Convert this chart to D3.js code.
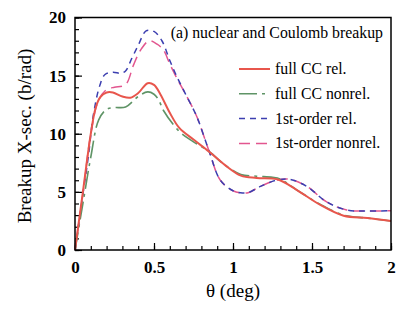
<!DOCTYPE html>
<html>
<head>
<meta charset="utf-8">
<script src="https://cdn.jsdelivr.net/npm/d3@7"></script>
<style>
	body { margin: 0; background: #fff; }
	svg text { font-family: "Liberation Serif", "Times New Roman", serif; }
</style>
</head>
<body>
<div id="chart"></div>
<script>
// angles (deg) and cross sections (b/rad)
const fullRelTheta = [0, 0.05, 0.1, 0.13, 0.16, 0.2, 0.24, 0.3, 0.35, 0.4, 0.46, 0.5, 0.54, 0.6, 0.66, 0.75, 0.85, 0.95, 1.05, 1.15, 1.28, 1.4, 1.55, 1.7, 1.85, 2.0]
const fullRel = [0, 5.0, 10.0, 12.2, 13.15, 13.55, 13.55, 13.2, 13.1, 13.5, 14.35, 14.2, 13.4, 11.8, 10.5, 9.5, 8.45, 7.3, 6.4, 6.2, 6.08, 5.2, 3.9, 2.95, 2.75, 2.5]

const fullNonrelTheta = [0, 0.05, 0.1, 0.15, 0.2, 0.25, 0.32, 0.4, 0.46, 0.5, 0.53, 0.56, 0.66, 0.75, 0.85, 0.95, 1.05, 1.15, 1.25, 1.3, 1.4, 1.55, 1.7, 1.85, 2.0]
const fullNonrel = [0, 4.0, 8.0, 11.2, 12.1, 12.25, 12.3, 13.2, 13.6, 13.4, 12.9, 12.0, 10.2, 9.3, 8.45, 7.3, 6.5, 6.35, 6.25, 6.1, 5.2, 3.95, 3.0, 2.75, 2.5]

const firstRelTheta = [0, 0.05, 0.085, 0.116, 0.158, 0.19, 0.24, 0.29, 0.32, 0.36, 0.4, 0.45, 0.5, 0.55, 0.6, 0.64, 0.7, 0.77, 0.85, 0.92, 1.0, 1.06, 1.1, 1.17, 1.28, 1.36, 1.47, 1.59, 1.72, 1.85, 2.0]
const firstRel = [0, 4.8, 8.1, 11.6, 14.2, 15.1, 15.3, 15.2, 15.4, 16.5, 17.6, 18.85, 18.8, 18.0, 16.3, 15.05, 13.4, 11.5, 8.45, 6.0, 5.1, 4.9, 4.95, 5.45, 6.02, 6.08, 5.45, 4.16, 3.44, 3.35, 3.38]

const firstNonrelTheta = [0, 0.05, 0.1, 0.15, 0.2, 0.25, 0.3, 0.33, 0.37, 0.42, 0.47, 0.52, 0.56, 0.6, 0.64, 0.7, 0.77, 0.85, 0.92, 1.0, 1.06, 1.1, 1.17, 1.28, 1.36, 1.47, 1.59, 1.72, 1.85, 2.0]
const firstNonrel = [0, 4.8, 10.0, 12.9, 13.8, 14.0, 14.1, 14.4, 15.9, 17.3, 18.0, 17.7, 17.2, 16.0, 14.9, 13.4, 11.5, 8.45, 6.0, 5.1, 4.9, 4.95, 5.45, 6.02, 6.08, 5.45, 4.16, 3.44, 3.35, 3.38]

const seriesNames = ['full CC rel.', 'full CC nonrel.', '1st-order rel.', '1st-order nonrel.']
const seriesColours = ['#e8564c', '#5f9466', '#3c3fb0', '#e2568f']
const seriesDashes = [null, '18,5,3,5', '6,5', '11,6']
const seriesWidths = [2, 1.6, 1.5, 1.5]

const xTicks = [0, 0.5, 1, 1.5, 2]
const yTicks = [0, 5, 10, 15, 20]
const titleText = '(a) nuclear and Coulomb breakup'

const series = [
	{ theta: fullRelTheta, value: fullRel },
	{ theta: fullNonrelTheta, value: fullNonrel },
	{ theta: firstRelTheta, value: firstRel },
	{ theta: firstNonrelTheta, value: firstNonrel }
]

const width = 399, height = 315
const margin = { top: 17.5, right: 8, bottom: 65, left: 75 }

const svg = d3.select('#chart')
	.append('svg')
	.attr('width', width)
	.attr('height', height)

const x = d3.scaleLinear().domain([0, 2]).range([margin.left, width - margin.right])
const y = d3.scaleLinear().domain([0, 20]).range([height - margin.bottom, margin.top])

// minor + major ticks, pointing inward
const xAxis = d3.axisBottom(x).tickValues(d3.range(0, 2.001, 0.1)).tickSize(-4).tickFormat('')
const yAxis = d3.axisLeft(y).tickValues(d3.range(0, 20.001, 1)).tickSize(-4).tickFormat('')

svg.append('g')
	.attr('transform', `translate(0,${y(0)})`)
	.call(xAxis)
	.call(g => g.select('.domain').remove())
	.call(g => g.selectAll('line').attr('stroke', '#000').attr('stroke-width', 1.2))

svg.append('g')
	.attr('transform', `translate(0,${y(0)})`)
	.call(d3.axisBottom(x).tickValues(xTicks).tickSize(-7).tickFormat(d3.format('')))
	.call(g => g.select('.domain').remove())
	.call(g => g.selectAll('line').attr('stroke', '#000').attr('stroke-width', 1.2))
	.call(g => g.selectAll('text')
		.attr('y', 11)
		.attr('font-size', 17)
		.attr('font-weight', 'bold')
		.attr('fill', '#000'))

svg.append('g')
	.attr('transform', `translate(${x(0)},0)`)
	.call(yAxis)
	.call(g => g.select('.domain').remove())
	.call(g => g.selectAll('line').attr('stroke', '#000').attr('stroke-width', 1.2))

svg.append('g')
	.attr('transform', `translate(${x(0)},0)`)
	.call(d3.axisLeft(y).tickValues(yTicks).tickSize(-7).tickFormat(d3.format('')))
	.call(g => g.select('.domain').remove())
	.call(g => g.selectAll('line').attr('stroke', '#000').attr('stroke-width', 1.2))
	.call(g => g.selectAll('text')
		.attr('x', -9)
		.attr('font-size', 17)
		.attr('font-weight', 'bold')
		.attr('fill', '#000'))

const line = d3.line()
	.x(d => x(d[0]))
	.y(d => y(d[1]))
	.curve(d3.curveCatmullRom.alpha(0.5))

const plot = svg.append('g')

// draw back to front so the solid red sits on top
;[3, 2, 1, 0].forEach(i => {
	const s = series[i]
	plot.append('path')
		.datum(s.theta.map((t, j) => [t, s.value[j]]))
		.attr('fill', 'none')
		.attr('stroke', seriesColours[i])
		.attr('stroke-width', seriesWidths[i])
		.attr('stroke-dasharray', seriesDashes[i])
		.attr('d', line)
})

// frame
svg.append('rect')
	.attr('x', x(0))
	.attr('y', y(20))
	.attr('width', x(2) - x(0))
	.attr('height', y(0) - y(20))
	.attr('fill', 'none')
	.attr('stroke', '#000')
	.attr('stroke-width', 1.5)

svg.append('text')
	.attr('x', x(2) - 8)
	.attr('y', y(20) + 20)
	.attr('text-anchor', 'end')
	.attr('font-size', 15.8)
	.text(titleText)

// legend
const legend = svg.append('g')
seriesNames.forEach((name, i) => {
	const ly = 69 + i * 24.8
	legend.append('line')
		.attr('x1', 239).attr('x2', 270)
		.attr('y1', ly).attr('y2', ly)
		.attr('stroke', seriesColours[i])
		.attr('stroke-width', seriesWidths[i])
		.attr('stroke-dasharray', seriesDashes[i])
	legend.append('text')
		.attr('x', 275)
		.attr('y', ly + 5)
		.attr('font-size', 15.8)
		.text(name)
})

svg.append('text')
	.attr('x', x(1))
	.attr('y', 297)
	.attr('text-anchor', 'middle')
	.attr('font-size', 19)
	.text('θ (deg)')

svg.append('text')
	.attr('transform', `translate(31,136) rotate(-90)`)
	.attr('text-anchor', 'middle')
	.attr('font-size', 19)
	.text('Breakup X-sec. (b/rad)')
</script>
</body>
</html>
